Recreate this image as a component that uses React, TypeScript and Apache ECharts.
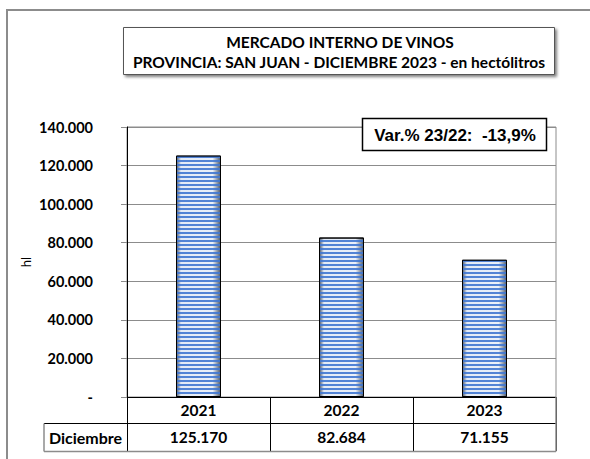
import React, { useEffect, useRef } from "react";
import * as echarts from "echarts";

const years = ["2021", "2022", "2023"];
const values = [125170, 82684, 71155];
const rowLabel = "Diciembre";
const yMax = 140000;
const yStep = 20000;
const titleLines = [
  "MERCADO INTERNO DE VINOS",
  "PROVINCIA: SAN JUAN - DICIEMBRE 2023 - en hectólitros",
];
const yName = "hl";

const fmt = (n: number) =>
  n === 0 ? "-" : Math.round(n).toString().replace(/\B(?=(\d{3})+(?!\d))/g, ".");

const varPct = ((values[2] / values[1] - 1) * 100).toFixed(1).replace(".", ",");
const varText = `Var.% 23/22:  ${varPct}%`;

export default function App() {
  const ref = useRef<HTMLDivElement>(null);
  useEffect(() => {
    if (!ref.current) return;
    const chart = echarts.init(ref.current, null, { renderer: "svg" });
    const font = "Lato, 'Noto Sans', sans-serif";
    const gridL = 127, gridT = 127, gridR = 556, gridB = 397;
    chart.setOption({
      animation: false,
      backgroundColor: "#ffffff",
      grid: {
        left: gridL,
        top: gridT,
        right: 590 - gridR,
        bottom: 459 - gridB,
        show: true,
        borderColor: "#8c8c8c",
        borderWidth: 1,
      },
      xAxis: [
        {
          type: "category",
          data: years,
          position: "bottom",
          axisLine: { lineStyle: { color: "#000", width: 1 } },
          axisTick: { show: true, length: 54, alignWithLabel: false, lineStyle: { color: "#000" } },
          axisLabel: { margin: 5, color: "#000", fontWeight: "bold", fontSize: 15.5, fontFamily: font },
        },
        {
          type: "category",
          data: values.map(fmt),
          position: "bottom",
          offset: 26,
          axisLine: { show: false },
          axisTick: { show: false },
          axisLabel: { margin: 6, color: "#000", fontWeight: "bold", fontSize: 15.5, fontFamily: font },
        },
      ],
      yAxis: {
        type: "value",
        min: 0,
        max: yMax,
        interval: yStep,
        name: yName,
        nameLocation: "middle",
        nameGap: 95,
        nameRotate: 90,
        nameMoveOverlap: false,
        nameTextStyle: { color: "#000", fontSize: 13, fontFamily: font },
        axisLine: { show: true, lineStyle: { color: "#000", width: 1 } },
        axisTick: { show: true, length: 6, lineStyle: { color: "#8c8c8c" } },
        axisLabel: {
          margin: 34,
          color: "#000",
          fontWeight: "bold",
          fontSize: 14.5,
          fontFamily: font,
          formatter: (v: number) => fmt(v),
        },
        splitLine: { show: true, lineStyle: { color: "#8c8c8c", width: 1 } },
      },
      series: [
        {
          type: "bar",
          data: values,
          barWidth: 45,
          xAxisIndex: 0,
          itemStyle: {
            color: {
              type: "linear",
              x: 0, y: 0, x2: 1, y2: 0,
              colorStops: [
                { offset: 0, color: "#4e5a6c" },
                { offset: 0.1, color: "#e2eaf6" },
                { offset: 0.82, color: "#eaf0f9" },
                { offset: 1, color: "#4e5a6c" },
              ],
            },
            borderColor: "#000",
            borderWidth: 1,
            decal: {
              symbol: "rect",
              symbolSize: 1,
              dashArrayX: [1, 0],
              dashArrayY: [2, 1.4],
              rotation: 0,
              color: "rgba(66,120,210,0.9)",
            },
          },
        },
      ],
      graphic: [
        {
          type: "rect",
          z: 0,
          silent: true,
          shape: { x: 7, y: 10, width: 640, height: 520 },
          style: { fill: "none", stroke: "#8c8c8c", lineWidth: 2 },
        },
        {
          type: "rect",
          z: 100,
          shape: { x: 123.5, y: 27.5, width: 431, height: 47 },
          style: {
            fill: "#fff",
            stroke: "#555",
            lineWidth: 1,
            shadowBlur: 3,
            shadowOffsetX: 2,
            shadowOffsetY: 2,
            shadowColor: "rgba(0,0,0,0.5)",
          },
        },
        {
          type: "text",
          z: 101,
          x: 340,
          y: 42,
          style: {
            text: titleLines[0],
            align: "center",
            verticalAlign: "middle",
            fill: "#000",
            font: `bold 15.5px ${font}`,
          },
        },
        {
          type: "text",
          z: 101,
          x: 339,
          y: 62,
          style: {
            text: titleLines[1],
            align: "center",
            verticalAlign: "middle",
            fill: "#000",
            font: `bold 15.5px ${font}`,
          },
        },
        {
          type: "rect",
          z: 100,
          shape: { x: 362.5, y: 118.5, width: 184, height: 32 },
          style: { fill: "#fff", stroke: "#000", lineWidth: 1.5 },
        },
        {
          type: "text",
          z: 101,
          x: 455,
          y: 135,
          style: {
            text: varText,
            align: "center",
            verticalAlign: "middle",
            fill: "#000",
            font: "bold 17px 'Liberation Sans', Arial, sans-serif",
          },
        },
        {
          type: "line",
          z: 100,
          shape: { x1: 44, y1: 423.5, x2: gridR, y2: 423.5 },
          style: { stroke: "#000", lineWidth: 1 },
        },
        {
          type: "line",
          z: 100,
          shape: { x1: 44, y1: 451.5, x2: gridR, y2: 451.5 },
          style: { stroke: "#8c8c8c", lineWidth: 1.5 },
        },
        {
          type: "line",
          z: 100,
          shape: { x1: 44, y1: 423.5, x2: 44, y2: 451.5 },
          style: { stroke: "#8c8c8c", lineWidth: 1.5 },
        },
        {
          type: "line",
          z: 100,
          shape: { x1: gridR, y1: gridB, x2: gridR, y2: 451.5 },
          style: { stroke: "#8c8c8c", lineWidth: 1.5 },
        },
        {
          type: "text",
          z: 101,
          x: 85.5,
          y: 437.5,
          style: {
            text: rowLabel,
            align: "center",
            verticalAlign: "middle",
            fill: "#000",
            font: `bold 16px ${font}`,
          },
        },
      ],
    });
    return () => chart.dispose();
  }, []);
  return (
    <div
      ref={ref}
      style={{ position: "fixed", left: 0, top: 0, width: 590, height: 459, overflow: "hidden", background: "#fff" }}
    />
  );
}
